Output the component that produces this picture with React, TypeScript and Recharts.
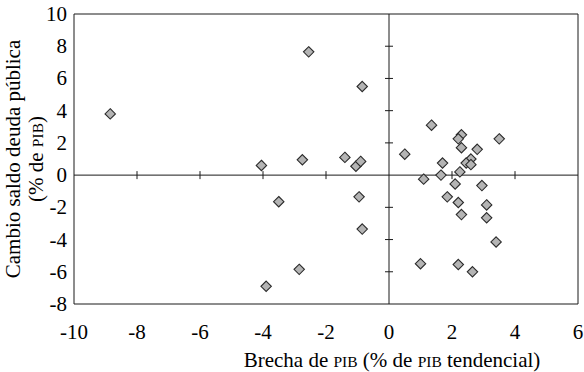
import {
  ReferenceDot,
  ReferenceLine,
  Scatter,
  ScatterChart,
  XAxis,
  YAxis,
} from "recharts";

// Output gap (% of trend GDP) vs change in public debt balance (% of GDP)
const brecha = [
  -8.85, -2.55, -4.05, -2.75, -3.5, -2.85, -3.9, -1.4, -1.05, -0.9, -0.95, -0.85, -0.85,
  0.5, 1.35, 2.3, 2.2, 2.3, 2.8, 3.5, 1.7, 2.6, 2.45, 2.6, 2.25, 1.65, 1.1, 2.1, 2.95,
  1.85, 2.2, 3.1, 2.3, 3.1, 3.4, 1.0, 2.2, 2.65,
];
const cambio = [
  3.8, 7.65, 0.6, 0.95, -1.65, -5.85, -6.9, 1.1, 0.55, 0.85, -1.35, -3.35, 5.5,
  1.3, 3.1, 2.5, 2.25, 1.7, 1.6, 2.25, 0.75, 1.0, 0.75, 0.65, 0.2, 0.0, -0.25, -0.55, -0.65,
  -1.35, -1.7, -1.85, -2.45, -2.65, -4.15, -5.5, -5.55, -6.0,
];

const xTicks = [-10, -8, -6, -4, -2, 0, 2, 4, 6];
const yTicks = [-8, -6, -4, -2, 0, 2, 4, 6, 8, 10];
const xZeroTicks = [-8, -6, -4, -2, 2, 4];
const yZeroTicks = [-6, -4, -2, 2, 4, 6, 8];

const FONT = "Liberation Serif";
const INK = "#1a1a1a";
const FS = 21;
const SC = 15.5; // small caps size for "PIB"

const points = brecha.map((x, i) => ({ x, y: cambio[i] }));

function Diamond(props: any) {
  const { cx, cy } = props;
  const r = 5.2;
  return (
    <polygon
      points={`${cx},${cy - r} ${cx + r},${cy} ${cx},${cy + r} ${cx - r},${cy}`}
      fill="#b4b4b4"
      stroke="#2a2a2a"
      strokeWidth={1.1}
    />
  );
}

const vTick = (p: any) => (
  <line x1={p.cx} x2={p.cx} y1={p.cy - 4} y2={p.cy + 4} stroke={INK} strokeWidth={1} />
);
const hTick = (p: any) => (
  <line x1={p.cx - 4} x2={p.cx + 4} y1={p.cy} y2={p.cy} stroke={INK} strokeWidth={1} />
);

const XTick = ({ x, y, payload }: any) => (
  <text x={x} y={y + 33} textAnchor="middle" fontFamily={FONT} fontSize={FS} fill="#000">
    {payload.value}
  </text>
);
const YTick = ({ x, y, payload }: any) => (
  <text x={x - 5} y={y + 7} textAnchor="end" fontFamily={FONT} fontSize={FS} fill="#000">
    {payload.value}
  </text>
);

export default function App() {
  return (
    <div style={{ position: "absolute", left: 0, top: 0, background: "#fff", fontFamily: FONT }}>
      <ScatterChart width={584} height={372} margin={{ top: 14, right: 6, bottom: 0, left: 0 }}>
        <XAxis
          type="number"
          dataKey="x"
          domain={[-10, 6]}
          ticks={xTicks}
          interval={0}
          allowDataOverflow
          height={68}
          axisLine={{ stroke: INK }}
          tickLine={false}
          tickSize={0}
          tick={<XTick />}
          label={{
            content: ({ viewBox }: any) => (
              <text
                x={392}
                y={viewBox.y + 63}
                textAnchor="middle"
                fontFamily={FONT}
                fontSize={FS}
                fill="#000"
              >
                Brecha de <tspan fontSize={SC}>PIB</tspan> (% de <tspan fontSize={SC}>PIB</tspan> tendencial)
              </text>
            ),
          }}
        />
        <YAxis
          type="number"
          dataKey="y"
          domain={[-8, 10]}
          ticks={yTicks}
          interval={0}
          allowDataOverflow
          width={74}
          axisLine={{ stroke: INK }}
          tickLine={false}
          tickSize={0}
          tick={<YTick />}
          label={{
            content: ({ viewBox }: any) => {
              const cy = viewBox.y + viewBox.height / 2;
              return (
                <g fontFamily={FONT} fontSize={FS} fill="#000">
                  <text x={20} y={cy} textAnchor="middle" transform={`rotate(-90 20 ${cy})`}>
                    Cambio saldo deuda pública
                  </text>
                  <text x={43} y={cy} textAnchor="middle" transform={`rotate(-90 43 ${cy})`}>
                    (% de <tspan fontSize={SC}>PIB</tspan>)
                  </text>
                </g>
              );
            },
          }}
        />
        <ReferenceLine y={10} stroke={INK} />
        <ReferenceLine x={6} stroke={INK} />
        <ReferenceLine y={0} stroke={INK} />
        <ReferenceLine x={0} stroke={INK} />
        {xZeroTicks.map((t) => (
          <ReferenceDot key={`xt${t}`} x={t} y={0} r={0} shape={vTick} />
        ))}
        {yZeroTicks.map((t) => (
          <ReferenceDot key={`yt${t}`} x={0} y={t} r={0} shape={hTick} />
        ))}
        <Scatter data={points} shape={Diamond} isAnimationActive={false} />
      </ScatterChart>
    </div>
  );
}
